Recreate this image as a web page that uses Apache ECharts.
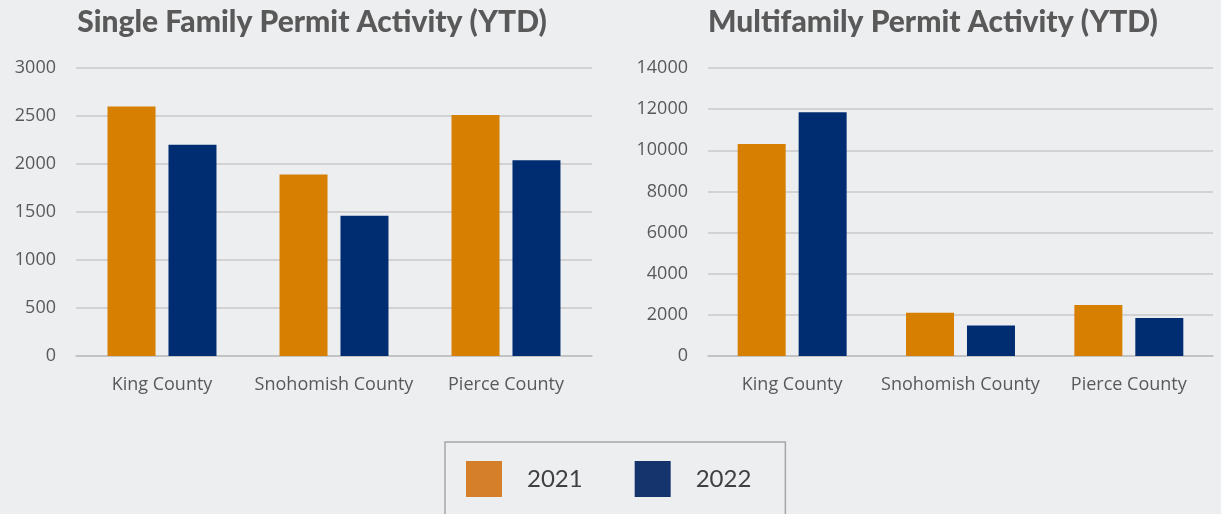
<!DOCTYPE html>
<html>
<head>
<meta charset="utf-8">
<script src="https://cdn.jsdelivr.net/npm/echarts@6/dist/echarts.min.js"></script>
<style>
  html, body { margin: 0; padding: 0; background: #edeef0; }
  #chart { width: 1221px; height: 514px; }
</style>
</head>
<body>
<div id="chart"></div>
<script>
var counties = ["King County", "Snohomish County", "Pierce County"];
var years = ["2021", "2022"];
var single2021 = [2600, 1890, 2510];
var single2022 = [2200, 1460, 2040];
var multi2021 = [10300, 2100, 2480];
var multi2022 = [11850, 1480, 1850];

var orange = "#d67f00";
var navy = "#002d72";
var labelFont = { color: "#595959", fontSize: 18, fontFamily: "Open Sans" };

function yAxis(gridIndex, max, interval) {
  return {
    type: "value",
    gridIndex: gridIndex,
    min: 0,
    max: max,
    interval: interval,
    axisLabel: Object.assign({ margin: 20, formatter: function (v) { return String(v); } }, labelFont),
    axisLine: { show: false },
    axisTick: { show: false },
    splitLine: { lineStyle: { color: "#c9c9c9", width: 1.5 } }
  };
}

function xAxis(gridIndex) {
  return {
    type: "category",
    gridIndex: gridIndex,
    data: counties,
    axisLabel: Object.assign({ margin: 20, interval: 0 }, labelFont),
    axisLine: { lineStyle: { color: "#bfbfbf", width: 1.5 } },
    axisTick: { show: false }
  };
}

function bar(name, idx, data, color) {
  return {
    name: name,
    type: "bar",
    xAxisIndex: idx,
    yAxisIndex: idx,
    data: data,
    barWidth: 48,
    barGap: "27%",
    itemStyle: { color: color },
    emphasis: { disabled: true }
  };
}

var myChart = echarts.init(document.getElementById("chart"));
var option = {
  backgroundColor: "#edeef0",
  animation: false,
  title: [
    {
      text: "Single Family Permit Activity (YTD)",
      left: 307, top: 2, textAlign: "center",
      textStyle: { color: "#595959", fontSize: 30, fontWeight: 900, fontFamily: "Lato" }
    },
    {
      text: "Multifamily Permit Activity (YTD)",
      left: 928, top: 2, textAlign: "center",
      textStyle: { color: "#595959", fontSize: 30, fontWeight: 900, fontFamily: "Lato" }
    }
  ],
  legend: {
    left: 445, top: 442,
    padding: [19, 34, 40, 21],
    borderColor: "#a6a6a6",
    borderWidth: 1.5,
    itemWidth: 36, itemHeight: 36,
    itemGap: 52,
    icon: "rect",
    textStyle: { color: "#404040", fontSize: 24, fontFamily: "Lato", padding: [0, 0, 0, 20] },
    data: [
      { name: years[0], itemStyle: { color: "#d57f2b" } },
      { name: years[1], itemStyle: { color: "#15336d" } }
    ]
  },
  grid: [
    { left: 76, right: 629, top: 68, bottom: 158 },
    { left: 708, right: 8, top: 68, bottom: 158 }
  ],
  xAxis: [xAxis(0), xAxis(1)],
  yAxis: [yAxis(0, 3000, 500), yAxis(1, 14000, 2000)],
  series: [
    bar(years[0], 0, single2021, orange),
    bar(years[1], 0, single2022, navy),
    bar(years[0], 1, multi2021, orange),
    bar(years[1], 1, multi2022, navy)
  ]
};
myChart.setOption(option);
</script>
</body>
</html>
